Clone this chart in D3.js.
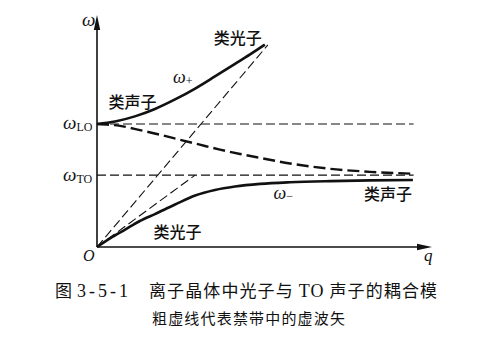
<!DOCTYPE html>
<html>
<head>
<meta charset="utf-8">
<script src="https://cdn.jsdelivr.net/npm/d3@7"></script>
<style>
  body { margin: 0; background: #fff; }
  svg { display: block; }
  .cjk { font-family: "Noto Sans CJK SC", sans-serif; }
  .math { font-family: "Liberation Serif", "DejaVu Serif", serif; }
</style>
</head>
<body>
<div id="chart"></div>
<script>
// frequency levels (axis units)
const omegaLO = 5.3;
const omegaTO = 3.1;
const qEnd = 9.45;

// upper branch  ω+  [q, ω]
const upperBranch = [
  [0, 5.3], [0.54, 5.41], [1.13, 5.63], [1.73, 5.95], [2.33, 6.36],
  [2.93, 6.83], [3.52, 7.35], [4.12, 7.89], [4.57, 8.3], [5.01, 8.72]
];

// lower branch  ω-
const lowerBranch = [
  [0, 0], [0.39, 0.37], [0.84, 0.75], [1.28, 1.12], [1.73, 1.42],
  [2.33, 1.83], [2.93, 2.22], [3.52, 2.46], [4.12, 2.61], [4.87, 2.72],
  [5.76, 2.79], [6.96, 2.84], [8.15, 2.87], [9.43, 2.89]
];

// imaginary wave vector inside the gap (thick dashed)
const gapBranch = [
  [0, 5.3], [0.69, 5.22], [1.28, 5.04], [1.88, 4.84], [2.48, 4.62],
  [3.07, 4.41], [3.67, 4.2], [4.27, 4.01], [4.87, 3.84], [5.76, 3.6],
  [6.96, 3.37], [8.15, 3.24], [9.43, 3.16]
];

// light lines from the origin
const lightLineHigh = [[0, 0], [5.1, 8.71]];
const lightLineLow = [[0, 0], [2.93, 3.1]];

const figNumber = ["图", "3-5-1"];
const captionMain = ["离子晶体中光子与 ", "TO", " 声子的耦合模"];
const captionSub = "粗虚线代表禁带中的虚波矢";
const photonLike = "类光子";
const phononLike = "类声子";

const width = 504, height = 352;

const svg = d3.select("#chart").append("svg")
  .attr("width", width)
  .attr("height", height);

const x = d3.scaleLinear().domain([0, 10]).range([97, 432]);
const y = d3.scaleLinear().domain([0, 10]).range([247, 15]);

const line = d3.line()
  .x(d => x(d[0]))
  .y(d => y(d[1]));
const smooth = d3.line()
  .x(d => x(d[0]))
  .y(d => y(d[1]))
  .curve(d3.curveMonotoneX);

// thin dashed guides
const guides = svg.append("g")
  .attr("fill", "none")
  .attr("stroke", "#111")
  .attr("stroke-width", 1.1)
  .attr("stroke-dasharray", "9,4");

guides.append("path").attr("d", line([[0, omegaLO], [qEnd, omegaLO]]));
guides.append("path").attr("d", line([[0, omegaTO], [qEnd, omegaTO]]));
guides.append("path").attr("d", line(lightLineHigh));
guides.append("path").attr("d", line(lightLineLow));

// curves
svg.append("path")
  .attr("d", smooth(gapBranch))
  .attr("fill", "none")
  .attr("stroke", "#111")
  .attr("stroke-width", 2.4)
  .attr("stroke-dasharray", "12,5");

svg.append("path")
  .attr("d", smooth(upperBranch))
  .attr("fill", "none")
  .attr("stroke", "#111")
  .attr("stroke-width", 2.6);

svg.append("path")
  .attr("d", smooth(lowerBranch))
  .attr("fill", "none")
  .attr("stroke", "#111")
  .attr("stroke-width", 2.6);

// axes with arrows
svg.append("line")
  .attr("x1", x(0)).attr("y1", y(0))
  .attr("x2", x(0)).attr("y2", y(10) + 8)
  .attr("stroke", "#111").attr("stroke-width", 1.6);
svg.append("line")
  .attr("x1", x(0)).attr("y1", y(0))
  .attr("x2", x(10) - 8).attr("y2", y(0))
  .attr("stroke", "#111").attr("stroke-width", 1.6);

svg.append("path")
  .attr("d", `M${x(0)},${y(10)} L${x(0) - 3.2},${y(10) + 15} L${x(0) + 3.2},${y(10) + 15} Z`)
  .attr("fill", "#111");
svg.append("path")
  .attr("d", `M${x(10)},${y(0)} L${x(10) - 15},${y(0) - 3.2} L${x(10) - 15},${y(0) + 3.2} Z`)
  .attr("fill", "#111");

// math labels
function omegaLabel(px, py, sub, size, subSize, dy) {
  const t = svg.append("text")
    .attr("class", "math")
    .attr("x", px).attr("y", py)
    .attr("fill", "#111");
  t.append("tspan").attr("font-style", "italic").attr("font-size", size).text("ω");
  if (sub) {
    t.append("tspan").attr("font-size", subSize).attr("dy", dy).text(sub);
  }
  return t;
}

omegaLabel(x(0) - 15, y(10) + 11, null, 19);
omegaLabel(x(0) - 34, y(omegaLO) + 5, "LO", 19, 12, 2);
omegaLabel(x(0) - 34, y(omegaTO) + 6, "TO", 19, 12, 2);
omegaLabel(x(2.27), y(7) - 2, "+", 18, 12, 2);
omegaLabel(x(5.27), y(2.1) + 1, "−", 18, 12, 1);

svg.append("text").attr("class", "math")
  .attr("x", x(0) - 14).attr("y", y(0) + 14)
  .attr("font-style", "italic").attr("font-size", 16)
  .attr("fill", "#111").text("O");
svg.append("text").attr("class", "math")
  .attr("x", x(10) - 8).attr("y", y(0) + 14)
  .attr("font-style", "italic").attr("font-size", 17)
  .attr("fill", "#111").text("q");

// region labels
function cjkLabel(px, py, txt) {
  svg.append("text")
    .attr("class", "cjk")
    .attr("x", px).attr("y", py)
    .attr("font-size", 16)
    .attr("font-weight", 500)
    .attr("fill", "#111")
    .attr("text-anchor", "middle")
    .text(txt);
}
cjkLabel(x(4.2), y(8.7) - 1, photonLike);
cjkLabel(x(1.06), y(6.0) + 0, phononLike);
cjkLabel(x(2.4), y(0.5) + 3, photonLike);
cjkLabel(x(8.69), y(2.1) + 2, phononLike);

// caption
svg.append("text").attr("class", "cjk")
  .attr("x", 55).attr("y", 297)
  .attr("font-size", 17).attr("fill", "#111")
  .text(figNumber[0]);
svg.append("text").attr("class", "math")
  .attr("x", 77).attr("y", 297)
  .attr("font-size", 18).attr("fill", "#111")
  .attr("letter-spacing", 3)
  .text(figNumber[1]);

const cap2 = svg.append("text").attr("class", "cjk")
  .attr("x", 149).attr("y", 297)
  .attr("font-size", 17).attr("fill", "#111")
  .attr("letter-spacing", 1.1);
cap2.append("tspan").text(captionMain[0]);
cap2.append("tspan").attr("class", "math").attr("font-size", 18).text(captionMain[1]);
cap2.append("tspan").text(captionMain[2]);

svg.append("text").attr("class", "cjk")
  .attr("x", 152).attr("y", 324)
  .attr("font-size", 15).attr("fill", "#111")
  .attr("textLength", 193).attr("lengthAdjust", "spacing")
  .text(captionSub);
</script>
</body>
</html>
